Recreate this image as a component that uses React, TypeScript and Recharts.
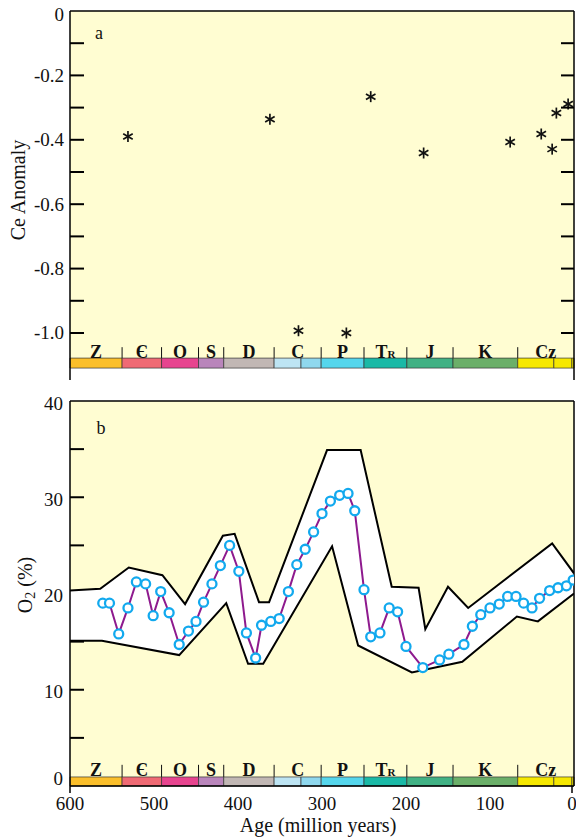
import React from 'react';
import { ComposedChart, Line, Area, Scatter, XAxis, YAxis, CartesianGrid, ReferenceArea, ReferenceLine } from 'recharts';

const FONT = '"Liberation Serif", "Times New Roman", serif';
const BG = '#FFFDD2';

// panel a: Ce anomaly
const ceAge = [531, 362, 328, 271, 242, 179, 76, 39, 26, 21, 7];
const ceValue = [-0.39, -0.336, -0.993, -1.0, -0.266, -0.441, -0.407, -0.382, -0.429, -0.317, -0.289];
const ceTicks = [0, -0.1, -0.2, -0.3, -0.4, -0.5, -0.6, -0.7, -0.8, -0.9, -1.0];

// panel b: O2 envelope and curve
const upperAge = [600, 564, 530, 490, 463, 418, 404, 375, 363, 294, 254, 217, 185, 177, 150, 126, 26, 0];
const upperO2 = [20.3, 20.5, 22.7, 21.9, 18.9, 26.0, 26.2, 19.1, 19.1, 34.9, 34.9, 20.7, 20.6, 16.3, 20.7, 18.5, 25.2, 22.1];
const lowerAge = [600, 562, 470, 414, 388, 370, 288, 257, 193, 133, 68, 43, 0];
const lowerO2 = [15.1, 15.1, 13.6, 19.0, 12.7, 12.7, 24.9, 14.6, 11.8, 12.9, 17.6, 17.1, 20.0];
const o2Age = [561, 553, 542, 531, 521, 510, 501, 492, 482, 470, 459, 450, 441, 431, 421, 410, 399, 390, 379, 372,
  361, 351, 340, 330, 320, 310, 300, 290, 279, 269, 261, 250, 242, 231, 220, 210, 200, 180, 160, 149,
  131, 121, 111, 100, 89, 79, 69, 60, 50, 41, 29, 19, 9, 1];
const o2Value = [19.0, 19.0, 15.8, 18.5, 21.2, 21.0, 17.7, 20.2, 18.0, 14.7, 16.1, 17.1, 19.1, 21.0, 22.9, 25.0, 22.3, 15.9, 13.3, 16.7,
  17.1, 17.4, 20.2, 23.0, 24.6, 26.4, 28.3, 29.6, 30.2, 30.4, 28.6, 20.4, 15.5, 15.9, 18.5, 18.1, 14.5, 12.3, 13.1, 13.7,
  14.7, 16.6, 17.8, 18.5, 18.9, 19.7, 19.7, 19.0, 18.5, 19.5, 20.3, 20.6, 20.8, 21.4];
const o2Ticks = [0, 5, 10, 15, 20, 25, 30, 35, 40];
const ageTicks = [600, 500, 400, 300, 200, 100, 0];

// geologic time scale
const periodNames = ['Z', 'Є', 'O', 'S', 'D', 'C', 'P', 'TR', 'J', 'K', 'Cz'];
const periodStart = [600, 538, 491, 447, 417, 357, 301, 250, 199, 144, 67];
const periodEnd = [538, 491, 447, 417, 357, 301, 250, 199, 144, 67, 0];
const barStart = [600, 538, 491, 447, 417, 357, 325, 301, 250, 199, 144, 67, 24, 2.5];
const barEnd = [538, 491, 447, 417, 357, 325, 301, 250, 199, 144, 67, 24, 2.5, 0];
const barColors = ['#FBBF2B', '#EF6A74', '#E7448F', '#B985BB', '#C1B7B4', '#BDE4F3', '#8FD8EE', '#55D6EC',
  '#1AB9A6', '#41B184', '#6BAF69', '#F6E800', '#F6E800', '#F6E800'];

const ceData = ceAge.map((age, i) => ({ age, ce: ceValue[i] }));
const o2Rows = [
  ...upperAge.map((age, i) => ({ age, up: upperO2[i] })),
  ...lowerAge.map((age, i) => ({ age, lo: lowerO2[i] })),
  ...o2Age.map((age, i) => ({ age, o2: o2Value[i] })),
].sort((a, b) => b.age - a.age);

const PLOT_RIGHT = 574;

const Asterisk = (props: any) => {
  const { cx, cy } = props;
  const r = 5.5;
  const dx = r * Math.cos(Math.PI / 6);
  const dy = r * Math.sin(Math.PI / 6);
  return (
    <g stroke="#111" strokeWidth={1.7}>
      <line x1={cx} y1={cy - r} x2={cx} y2={cy + r} />
      <line x1={cx - dx} y1={cy - dy} x2={cx + dx} y2={cy + dy} />
      <line x1={cx - dx} y1={cy + dy} x2={cx + dx} y2={cy - dy} />
    </g>
  );
};

const CeTick = (props: any) => {
  const { x, y, payload, index } = props;
  const v = payload.value;
  return (
    <g>
      {index > 0 && <line x1={x} y1={y} x2={x + 14} y2={y} stroke="#000" strokeWidth={2} />}
      {index > 0 && <line x1={PLOT_RIGHT} y1={y} x2={PLOT_RIGHT - 13} y2={y} stroke="#000" strokeWidth={2} />}
      {index % 2 === 0 && (
        <text x={x - 6} y={index === 0 ? y + 3 : y} textAnchor="end" dominantBaseline="central"
          fontFamily={FONT} fontSize={19} fill="#111">
          {v === 0 ? '0' : v.toFixed(1)}
        </text>
      )}
    </g>
  );
};

const O2Tick = (props: any) => {
  const { x, y, payload } = props;
  const v = payload.value;
  return (
    <g>
      {v !== 0 && v !== 40 && v !== 20 && <line x1={x} y1={y} x2={x + 14} y2={y} stroke="#000" strokeWidth={2} />}
      {v % 10 === 0 && (
        <text x={x - 7} y={v === 0 ? y - 8 : y + 2} textAnchor="end" dominantBaseline="central"
          fontFamily={FONT} fontSize={19} fill="#111">
          {v}
        </text>
      )}
    </g>
  );
};

const AgeTick = (props: any) => {
  const { x, y, payload } = props;
  const v = payload.value;
  return (
    <g>
      {(v === 600 || v === 0) && <line x1={x} y1={y} x2={x} y2={y + 7} stroke="#000" strokeWidth={1.5} />}
      <text x={x} y={y + 17} textAnchor="middle" dominantBaseline="central" fontFamily={FONT} fontSize={19} fill="#111">
        {v}
      </text>
    </g>
  );
};

const periodLabel = (name: string, first: boolean) => (props: any) => {
  const { x, y, width, height } = props.viewBox;
  const cx = x + width / 2;
  const cy = y + height / 2 - 1;
  return (
    <g>
      {!first && <line x1={x} y1={y} x2={x} y2={y + height} stroke="#111" strokeWidth={1} />}
      <text x={cx} y={cy} textAnchor="middle" dominantBaseline="central" fontFamily={FONT}
        fontSize={18} fontWeight="bold" fill="#111">
        {name === 'TR' ? (
          <>
            <tspan>T</tspan>
            <tspan fontSize={11} dy={2}>R</tspan>
          </>
        ) : name}
      </text>
    </g>
  );
};

const timeScale = (barLo: number, barHi: number, labelHi: number) => [
  ...barStart.map((s, i) => (
    <ReferenceArea key={'bar' + i} x1={s} x2={barEnd[i]} y1={barLo} y2={barHi}
      fill={barColors[i]} fillOpacity={1} stroke="#333" strokeWidth={0.7} />
  )),
  ...periodNames.map((name, i) => (
    <ReferenceArea key={'lab' + i} x1={periodStart[i]} x2={periodEnd[i]} y1={barHi} y2={labelHi}
      fill="none" fillOpacity={0} stroke="none" label={periodLabel(name, i === 0)} />
  )),
];

const App = () => {
  return (
    <div style={{ position: 'absolute', left: 0, top: 0, width: 576, height: 837, background: '#fff' }}>
      <ComposedChart width={576} height={385} margin={{ top: 11, right: 2, bottom: 5, left: 0 }}>
        <CartesianGrid horizontal={false} vertical={false} fill={BG} fillOpacity={1} stroke="none" />
        <XAxis type="number" dataKey="age" domain={[0, 600]} reversed hide allowDataOverflow />
        <YAxis type="number" domain={[-1.146, 0]} ticks={ceTicks} width={70} allowDataOverflow
          tickSize={0} tickMargin={0} tickLine={false} tick={<CeTick />}
          axisLine={{ stroke: '#000', strokeWidth: 1.5 }}
          label={() => (
            <g fontFamily={FONT} fill="#111">
              <text x={18} y={190} transform="rotate(-90 18 190)" textAnchor="middle" dominantBaseline="central" fontSize={20}>
                Ce Anomaly
              </text>
              <text x={99} y={33} textAnchor="middle" dominantBaseline="central" fontSize={18}>a</text>
            </g>
          )} />
        <ReferenceArea x1={600} x2={0} y1={-1.146} y2={-1.109} fill="#fff" fillOpacity={1} stroke="none" />
        {timeScale(-1.109, -1.078, -1.044)}
        <ReferenceLine y={0} stroke="#000" strokeWidth={1.5} />
        <ReferenceLine x={0} stroke="#000" strokeWidth={1.5} />
        <Scatter data={ceData} dataKey="ce" shape={<Asterisk />} isAnimationActive={false} />
      </ComposedChart>

      <ComposedChart width={576} height={452} data={o2Rows} margin={{ top: 16, right: 2, bottom: 0, left: 0 }}>
        <CartesianGrid horizontal={false} vertical={false} fill={BG} fillOpacity={1} stroke="none" />
        <XAxis type="number" dataKey="age" domain={[0, 600]} reversed allowDataOverflow ticks={ageTicks}
          height={51} tickSize={0} tickMargin={0} tickLine={false} tick={<AgeTick />}
          axisLine={{ stroke: '#000', strokeWidth: 1.5 }}
          label={() => (
            <text x={318} y={440} textAnchor="middle" dominantBaseline="central" fontFamily={FONT} fontSize={20} fill="#111">
              Age (million years)
            </text>
          )} />
        <YAxis type="number" domain={[0, 40]} ticks={o2Ticks} width={70} allowDataOverflow
          tickSize={0} tickMargin={0} tickLine={false} tick={<O2Tick />}
          axisLine={{ stroke: '#000', strokeWidth: 1.5 }}
          label={() => (
            <g fontFamily={FONT} fill="#111">
              <text x={25} y={200} transform="rotate(-90 25 200)" textAnchor="middle" dominantBaseline="central" fontSize={20}>
                <tspan>O</tspan>
                <tspan fontSize={14} dy={5}>2</tspan>
                <tspan dy={-5}> (%)</tspan>
              </text>
              <text x={101} y={43} textAnchor="middle" dominantBaseline="central" fontSize={18}>b</text>
            </g>
          )} />
        <Area dataKey="up" type="linear" connectNulls baseValue={0.94} stroke="#000" strokeWidth={2}
          fill="#fff" fillOpacity={1} dot={false} activeDot={false} isAnimationActive={false} />
        <Area dataKey="lo" type="linear" connectNulls baseValue={0.94} stroke="#000" strokeWidth={2}
          fill={BG} fillOpacity={1} dot={false} activeDot={false} isAnimationActive={false} />
        <Line dataKey="o2" type="linear" connectNulls stroke="#8E1A8E" strokeWidth={2}
          dot={{ r: 4.5, stroke: '#12A9EE', strokeWidth: 2.3, fill: '#fff' }} activeDot={false} isAnimationActive={false} />
        {timeScale(0, 0.94, 2.2)}
        <ReferenceLine y={40} stroke="#000" strokeWidth={1.5} />
        <ReferenceLine x={0} stroke="#000" strokeWidth={1.5} />
      </ComposedChart>
    </div>
  );
};

export default App;
